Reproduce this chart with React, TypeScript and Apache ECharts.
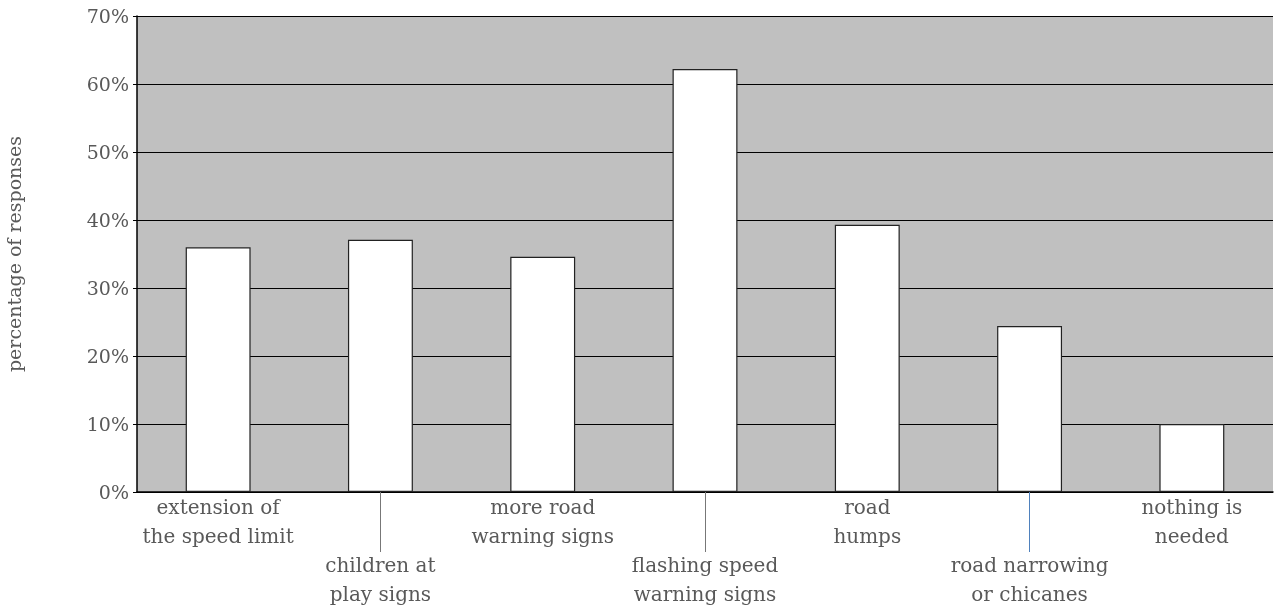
import React, { useEffect, useRef } from "react";
import * as echarts from "echarts";

const categories = [
  "extension of\nthe speed limit",
  "children at\nplay signs",
  "more road\nwarning signs",
  "flashing speed\nwarning signs",
  "road\nhumps",
  "road narrowing\nor chicanes",
  "nothing is\nneeded",
];
const values = [36.0, 37.1, 34.6, 62.2, 39.3, 24.4, 10.0];
const yTicks = { min: 0, max: 70, interval: 10 };
const yAxisTitle = "percentage of responses";

const FONT = "DejaVu Serif";
const TEXT = "#595959";

export default function App() {
  const ref = useRef<HTMLDivElement>(null);
  useEffect(() => {
    if (!ref.current) return;
    const chart = echarts.init(ref.current, null, { renderer: "svg" });
    chart.setOption({
      animation: false,
      grid: {
        left: 137,
        top: 16,
        right: 4,
        bottom: 119,
        outerBoundsMode: "none",
        containLabel: false,
        show: true,
        backgroundColor: "#c0c0c0",
        borderWidth: 0,
      },
      xAxis: [
        {
          type: "category",
          data: categories,
          position: "bottom",
          axisLine: { show: true, lineStyle: { color: "#000", width: 1.5 } },
          axisTick: {
            show: true,
            alignWithLabel: true,
            length: 60,
            interval: (i: number) => i % 2 === 1 && i !== 5,
            lineStyle: { color: "#777", width: 1 },
          },
          axisLabel: {
            interval: 0,
            margin: 0,
            fontFamily: FONT,
            fontSize: 20,
            lineHeight: 29,
            color: TEXT,
            formatter: (v: string, i: number) => (i % 2 === 1 ? "\n\n" + v : v),
          },
        },
        {
          type: "category",
          data: categories,
          position: "bottom",
          axisLine: { show: false },
          axisTick: {
            show: true,
            alignWithLabel: true,
            length: 60,
            interval: (i: number) => i === 5,
            lineStyle: { color: "#4f81bd", width: 1 },
          },
          axisLabel: { show: false },
        },
      ],
      yAxis: {
        type: "value",
        min: yTicks.min,
        max: yTicks.max,
        interval: yTicks.interval,
        name: yAxisTitle,
        nameLocation: "middle",
        nameGap: 114,
        nameTextStyle: { fontFamily: FONT, fontSize: 19, color: TEXT },
        axisLine: { show: true, lineStyle: { color: "#000", width: 1.5 } },
        axisTick: { show: true, length: 4, lineStyle: { color: "#000" } },
        axisLabel: {
          fontFamily: FONT,
          fontSize: 19,
          color: TEXT,
          margin: 8,
          formatter: "{value}%",
        },
        splitLine: { show: true, lineStyle: { color: "#000", width: 1 } },
      },
      series: [
        {
          type: "bar",
          data: values,
          xAxisIndex: 0,
          barWidth: "40%",
          itemStyle: { color: "#ffffff", borderColor: "#222", borderWidth: 1.2 },
        },
      ],
    });
    return () => chart.dispose();
  }, []);
  return (
    <div
      ref={ref}
      style={{ position: "fixed", left: 0, top: 0, width: 1277, height: 611 }}
    />
  );
}
